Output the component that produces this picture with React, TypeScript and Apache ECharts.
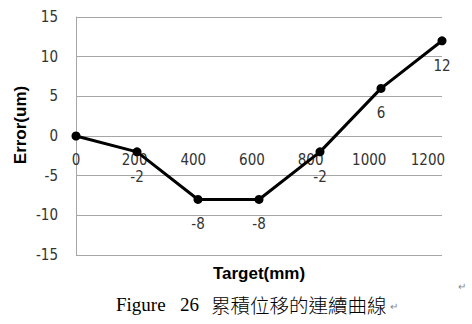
import React, { useEffect, useRef } from "react";
import * as echarts from "echarts";

const categories = ["0", "200", "400", "600", "800", "1000", "1200"];
const errorValues = [0, -2, -8, -8, -2, 6, 12];
const yTicks = { min: -15, max: 15, interval: 5 };
const xLabelAxis = { min: 0, max: 1248, interval: 200 };
const xTitle = "Target(mm)";
const yTitle = "Error(um)";
const captionFigure = "Figure";
const captionNumber = "26";
const captionText = "累積位移的連續曲線";

const NARROW = '"Liberation Sans Narrow", "DejaVu Sans Condensed", "Liberation Sans", sans-serif';
const GRID_COLOR = "#a6a6a6";

export default function App() {
  const ref = useRef<HTMLDivElement>(null);
  useEffect(() => {
    if (!ref.current) return;
    const chart = echarts.init(ref.current, null, { renderer: "svg" });
    chart.setOption({
      animation: false,
      backgroundColor: "#ffffff",
      grid: { left: 76, top: 17, right: 30, bottom: 69 },
      xAxis: [
        {
          type: "category",
          data: categories,
          boundaryGap: false,
          axisLine: { show: false, onZero: true },
          axisTick: { show: false },
          axisLabel: { show: false },
          splitLine: { show: false },
        },
        {
          type: "value",
          min: xLabelAxis.min,
          max: xLabelAxis.max,
          interval: xLabelAxis.interval,
          position: "bottom",
          offset: -119,
          axisLine: { show: false, onZero: false },
          axisTick: { show: false },
          splitLine: { show: false },
          axisLabel: {
            margin: 16,
            fontSize: 15,
            fontFamily: NARROW,
            color: "#333333",
            showMaxLabel: false,
            formatter: (v: number) => (v <= 1200 ? String(v) : ""),
          },
        },
      ],
      yAxis: {
        type: "value",
        min: yTicks.min,
        max: yTicks.max,
        interval: yTicks.interval,
        axisLine: { show: true, lineStyle: { color: GRID_COLOR, width: 1 } },
        axisTick: { show: false },
        splitLine: { show: true, lineStyle: { color: GRID_COLOR, width: 1 } },
        axisLabel: {
          margin: 18,
          fontSize: 15,
          fontFamily: NARROW,
          color: "#333333",
        },
      },
      series: [
        {
          type: "line",
          xAxisIndex: 0,
          data: errorValues.map((v, i) => ({
            value: v,
            label: { show: i !== 0 },
          })),
          lineStyle: { color: "#000000", width: 3 },
          itemStyle: { color: "#000000" },
          symbol: "circle",
          symbolSize: 9,
          label: {
            show: true,
            position: "bottom",
            distance: 13,
            fontSize: 15,
            fontFamily: NARROW,
            color: "#333333",
          },
        },
      ],
      graphic: [
        {
          type: "text",
          x: 20,
          y: 125,
          rotation: Math.PI / 2,
          style: {
            text: yTitle,
            fontSize: 17,
            fontWeight: "bold",
            fontFamily: '"Liberation Sans", Arial, sans-serif',
            fill: "#000000",
            textAlign: "center",
            textVerticalAlign: "middle",
          },
        },
        {
          type: "text",
          x: 259,
          y: 273,
          style: {
            text: xTitle,
            fontSize: 17,
            fontWeight: "bold",
            fontFamily: '"Liberation Sans", Arial, sans-serif',
            fill: "#000000",
            textAlign: "center",
            textVerticalAlign: "middle",
          },
        },
        {
          type: "text",
          x: 116,
          y: 304,
          style: {
            text: captionFigure,
            fontSize: 19,
            fontFamily: '"Liberation Serif", "DejaVu Serif", serif',
            fill: "#000000",
            textAlign: "left",
            textVerticalAlign: "middle",
          },
        },
        {
          type: "text",
          x: 180,
          y: 304,
          style: {
            text: captionNumber,
            fontSize: 19,
            fontFamily: '"Liberation Serif", "DejaVu Serif", serif',
            fill: "#000000",
            textAlign: "left",
            textVerticalAlign: "middle",
          },
        },
        {
          type: "text",
          x: 211,
          y: 304,
          style: {
            text: captionText,
            fontSize: 19.5,
            fontFamily: '"Noto Sans CJK TC", "Noto Sans CJK SC", sans-serif',
            fontWeight: 300,
            fill: "#000000",
            textAlign: "left",
            textVerticalAlign: "middle",
          },
        },
        {
          type: "text",
          x: 390,
          y: 306,
          style: {
            text: "↵",
            fontSize: 10,
            fill: "#888888",
            textAlign: "left",
            textVerticalAlign: "middle",
          },
        },
        {
          type: "text",
          x: 458,
          y: 286,
          style: {
            text: "↵",
            fontSize: 10,
            fill: "#888888",
            textAlign: "left",
            textVerticalAlign: "middle",
          },
        },
      ],
    });
    return () => chart.dispose();
  }, []);
  return (
    <div
      ref={ref}
      style={{ position: "fixed", left: 0, top: 0, width: 472, height: 324 }}
    />
  );
}
